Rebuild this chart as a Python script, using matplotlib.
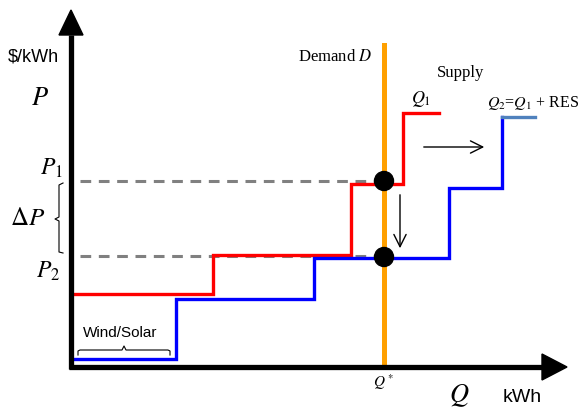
import matplotlib
matplotlib.use("Agg")
import matplotlib.pyplot as plt
from matplotlib.patches import Polygon, Circle

plt.rcParams['mathtext.fontset'] = 'stix'

# supply curve before RES (Q1): step edges along Q and price levels
red_q = [4, 142, 280, 332, 368]
red_p = [73, 112, 183, 254]
# supply curve with RES (Q2): shifted right, cheap wind/solar block first
blue_q = [3, 105, 243, 378, 431]
blue_p = [8, 68, 109, 179]
blue_top = [431, 464, 250]  # last flat part, drawn lighter
# demand (vertical) and the two equilibrium prices
q_star = 313
demand_top = 322
p1 = 186
p2 = 111
eq_p = [186, 110]

fig = plt.figure(figsize=(5.82, 4.08), dpi=100)
ax = fig.add_axes([0, 0, 1, 1])
ax.set_xlim(-71, 511)
ax.set_ylim(-41, 367)
ax.set_axis_off()


def step_path(qs, ps):
    xs, ys = [qs[0]], [ps[0]]
    for i, p in enumerate(ps):
        xs += [qs[i + 1]]
        ys += [p]
        if i + 1 < len(ps):
            xs += [qs[i + 1]]
            ys += [ps[i + 1]]
    return xs, ys


# dashed price guides
ax.plot([9, q_star - 8], [p1, p1], color='#808080', lw=2.2, dashes=(3.5, 2.5), zorder=2)
ax.plot([9, q_star - 8], [p2, p2], color='#808080', lw=2.2, dashes=(3.5, 2.5), zorder=2)

# supply curves
xs, ys = step_path(red_q, red_p)
ax.plot(xs, ys, color='#ff0000', lw=2.4, solid_joinstyle='miter', zorder=3)
xs, ys = step_path(blue_q, blue_p)
xs += [blue_top[0]]
ys += [blue_top[2]]
ax.plot(xs, ys, color='#0000ff', lw=2.4, solid_joinstyle='miter', zorder=3)
ax.plot(blue_top[:2], [blue_top[2]] * 2, color='#4f81bd', lw=2.4, zorder=3)

# demand
ax.plot([q_star, q_star], [0, demand_top], color='#ffa000', lw=3.6, zorder=4)

# equilibrium points
for p in eq_p:
    ax.add_patch(Circle((q_star, p), 9.5, color='black', zorder=5))

# axes with arrow heads
ax.plot([0, 0], [-2, 332], color='black', lw=3.8, solid_capstyle='butt', zorder=6)
ax.plot([-2, 471], [0, 0], color='black', lw=3.8, solid_capstyle='butt', zorder=6)
ax.add_patch(Polygon([[-12, 332], [12, 332], [0, 357]], closed=True, color='black', zorder=6))
ax.add_patch(Polygon([[471, 13], [471, -13], [496, 0]], closed=True, color='black', zorder=6))

# shift arrows
ax.annotate('', xy=(416, 220), xytext=(350, 220),
            arrowprops=dict(arrowstyle='->', color='black', lw=1.0, mutation_scale=22))
ax.annotate('', xy=(329, 116), xytext=(329, 175),
            arrowprops=dict(arrowstyle='->', color='black', lw=1.0, mutation_scale=22))

# braces
ax.plot([-8, -12, -12, -16, -12, -12, -8], [184, 182, 150, 148, 146, 115, 114],
        color='black', lw=0.8)
ax.plot([7, 7, 9, 51, 53, 55, 97, 99, 99], [12, 16, 17, 17, 21, 17, 17, 16, 12],
        color='black', lw=0.8)

# labels
serif = 'Liberation Serif'
ax.text(-38, 310, '$/kWh', fontsize=13, family='Liberation Sans', ha='center', va='center')
ax.text(-31, 269, '$P$', fontsize=19, ha='center', va='center')
ax.text(-20, 199, '$P_1$', fontsize=17, ha='center', va='center')
ax.text(-43, 149, r'$\Delta P$', fontsize=18, ha='center', va='center')
ax.text(-23, 96, '$P_2$', fontsize=17, ha='center', va='center')
ax.text(264, 310, 'Demand $D$', fontsize=12, family=serif, ha='center', va='center')
ax.text(390, 294, 'Supply', fontsize=12, family=serif, ha='center', va='center')
ax.text(350, 268, '$Q_1$', fontsize=13, ha='center', va='center')
ax.text(416, 264, '$Q_2$=$Q_1$ + RES', fontsize=11.5, family=serif, ha='left', va='center')
ax.text(312, -15, '$Q^*$', fontsize=11, ha='center', va='center')
ax.text(388, -29, '$Q$', fontsize=19, ha='center', va='center')
ax.text(451, -31, 'kWh', fontsize=14, family='Liberation Sans', ha='center', va='center')
ax.text(49, 34, 'Wind/Solar', fontsize=11, family='Liberation Sans', ha='center', va='center')

fig.savefig('out.png', dpi=100)
